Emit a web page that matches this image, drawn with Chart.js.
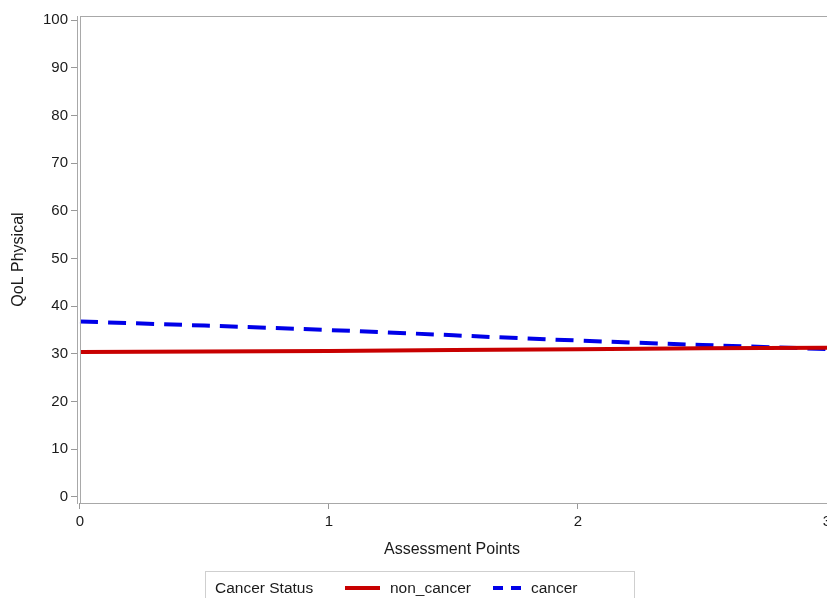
<!DOCTYPE html>
<html>
<head>
<meta charset="utf-8">
<script src="https://cdn.jsdelivr.net/npm/chart.js@4.4.1/dist/chart.umd.min.js"></script>
<style>
  html, body { margin: 0; padding: 0; background: #fff; overflow: hidden; }
  #wrap { position: relative; width: 860px; height: 598px; }
  #legend { position: absolute; left: 205px; top: 571px; width: 428px; height: 40px;
            border: 1px solid #cfcfcf; font-family: "Liberation Sans", Arial, sans-serif;
            font-size: 15.5px; color: #1a1a1a; }
  #legend span, #legend svg { position: absolute; }
</style>
</head>
<body>
<div id="wrap">
  <canvas id="chart" width="860" height="598"></canvas>
  <div id="legend"></div>
</div>
<script>
// values
var assessmentPoints = [0, 1, 2, 3];
var nonCancer = [30.4, 30.6, 31.0, 31.3];
var cancer = [36.8, 35.0, 32.8, 31.0];
var yTicks = [0, 10, 20, 30, 40, 50, 60, 70, 80, 90, 100];
var xTicks = [0, 1, 2, 3];

var FONT = "'Liberation Sans', Arial, sans-serif";

function toPoints(ys){
    var pts = [];
    for (var i = 0; i < assessmentPoints.length; i++) {
        pts.push({x: assessmentPoints[i], y: ys[i]});
    }
    return pts;
}

// draws the plot frame and the second (axis) line on the left
var framePlugin = {
    id: 'frame',
    afterDraw: function(chart){
        var a = chart.chartArea, ctx = chart.ctx;
        var x0 = chart.scales.x.getPixelForValue(0);
        ctx.save();
        ctx.strokeStyle = '#a8a8a8';
        ctx.lineWidth = 1;
        ctx.strokeRect(x0 + 0.5, a.top + 0.5, a.right - x0 + 20, a.bottom - a.top);
        ctx.restore();
    }
};

var chart = new Chart(document.getElementById('chart'), {
    type: 'line',
    data: {
        datasets: [
            {
                label: 'non_cancer',
                data: toPoints(nonCancer),
                borderColor: '#c80000',
                borderWidth: 4,
                pointRadius: 0,
                tension: 0.4
            },
            {
                label: 'cancer',
                data: toPoints(cancer),
                borderColor: '#0000e8',
                borderWidth: 4,
                borderDash: [18, 10],
                pointRadius: 0,
                tension: 0.4
            }
        ]
    },
    options: {
        responsive: false,
        animation: false,
        layout: { padding: { top: 16, right: 33, bottom: 0, left: 0 } },
        plugins: { legend: { display: false }, tooltip: { enabled: false } },
        scales: {
            x: {
                type: 'linear',
                min: -0.012,
                max: 3,
                afterBuildTicks: function(axis){ axis.ticks = xTicks.map(function(v){ return {value: v}; }); },
                afterFit: function(axis){ axis.height = 95; },
                grid: { drawOnChartArea: false, drawTicks: true, tickLength: 6, tickColor: '#999' },
                border: { display: false },
                ticks: { color: '#1a1a1a', font: { family: FONT, size: 15 }, padding: 4, maxRotation: 0 },
                title: { display: true, text: 'Assessment Points', color: '#1a1a1a',
                         font: { family: FONT, size: 16 }, padding: { top: 0, bottom: 39 } }
            },
            y: {
                min: -1.26,
                max: 100.84,
                afterBuildTicks: function(axis){ axis.ticks = yTicks.map(function(v){ return {value: v}; }); },
                afterFit: function(axis){ axis.width = 77; },
                grid: { drawOnChartArea: false, drawTicks: true, tickLength: 6, tickColor: '#999' },
                border: { display: true, color: '#a8a8a8', width: 1 },
                ticks: { color: '#1a1a1a', font: { family: FONT, size: 15 }, padding: 3 },
                title: { display: true, text: 'QoL Physical', color: '#1a1a1a',
                         font: { family: FONT, size: 16 }, padding: { top: 9, bottom: 0 } }
            }
        }
    },
    plugins: [framePlugin]
});

// legend built from the chart's datasets
function buildLegend(){
    var box = document.getElementById('legend');
    var title = document.createElement('span');
    title.textContent = 'Cancer Status';
    title.style.left = '9px';
    title.style.top = '7px';
    box.appendChild(title);
    var sampleLeft = [139, 287];
    var sampleWidth = [35, 28];
    chart.data.datasets.forEach(function(ds, i){
        var svg = document.createElementNS('http://www.w3.org/2000/svg', 'svg');
        svg.setAttribute('width', sampleWidth[i]);
        svg.setAttribute('height', 8);
        svg.style.left = sampleLeft[i] + 'px';
        svg.style.top = '12px';
        var ln = document.createElementNS('http://www.w3.org/2000/svg', 'line');
        ln.setAttribute('x1', 0); ln.setAttribute('x2', sampleWidth[i]);
        ln.setAttribute('y1', 4); ln.setAttribute('y2', 4);
        ln.setAttribute('stroke', ds.borderColor);
        ln.setAttribute('stroke-width', 4);
        if (ds.borderDash) ln.setAttribute('stroke-dasharray', '10 8');
        svg.appendChild(ln);
        box.appendChild(svg);
        var t = document.createElement('span');
        t.textContent = ds.label;
        t.style.left = (sampleLeft[i] + sampleWidth[i] + 10) + 'px';
        t.style.top = '7px';
        box.appendChild(t);
    });
}
buildLegend();
</script>
</body>
</html>
